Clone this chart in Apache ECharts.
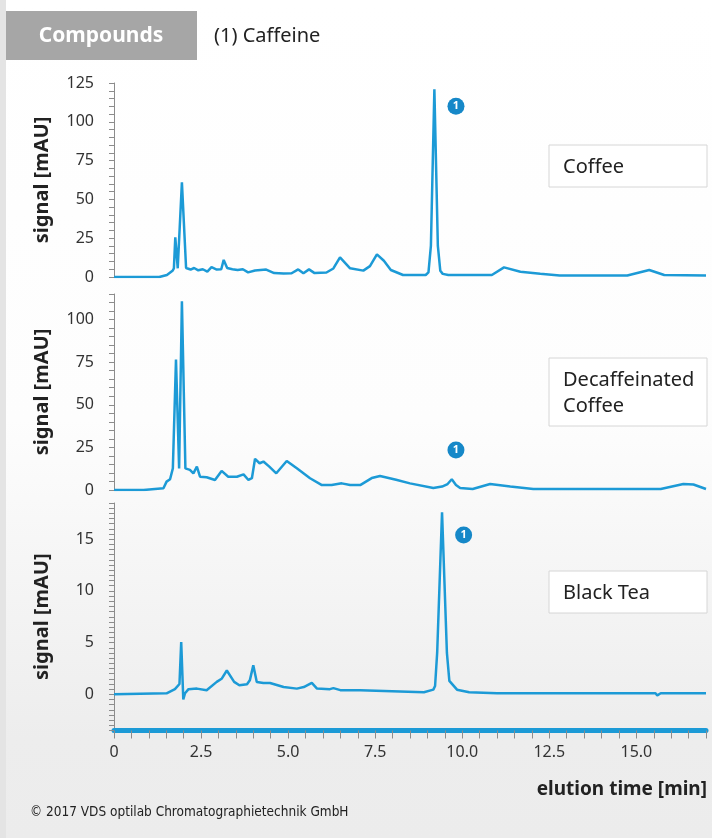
<!DOCTYPE html>
<html>
<head>
<meta charset="utf-8">
<script src="https://cdn.jsdelivr.net/npm/echarts@6/dist/echarts.min.js"></script>
<style>
html,body{margin:0;padding:0;}
body{width:712px;height:838px;background:linear-gradient(to bottom,#ffffff 0%,#fdfdfd 50%,#ededed 88%,#ececec 100%);}
#chart{width:712px;height:838px;}
</style>
</head>
<body>
<div id="chart"></div>
<script>
// ---- data (elution time [min], signal [mAU]) ----
const coffeeData = [
  [0,0],[1.3,0],[1.52,1.3],[1.68,4],[1.72,5.5],[1.76,25.6],[1.83,5.6],[1.95,61],[2.07,5.8],
  [2.2,4.8],[2.3,5.8],[2.42,4.3],[2.55,5],[2.68,3.5],[2.8,6.3],[2.95,4.8],[3.08,5],[3.15,11],
  [3.25,5.8],[3.4,5],[3.55,4.5],[3.7,5],[3.85,3],[4.05,4.2],[4.37,4.8],[4.6,2.5],[4.87,2.2],
  [5.1,2.4],[5.29,4.9],[5.44,2.4],[5.6,4.9],[5.76,2.5],[6.1,2.9],[6.3,5.5],[6.49,12.7],
  [6.78,5.6],[7.16,4.1],[7.35,7],[7.55,14.6],[7.75,10.5],[7.95,4.5],[8.3,1.3],[8.95,1.3],
  [9.03,3],[9.1,20],[9.2,121],[9.3,20],[9.37,4],[9.44,2],[9.6,1.3],[10.85,1.3],[11.2,6.2],
  [11.67,3.4],[12.24,2.1],[12.8,1],[14.74,1],[15.37,4.5],[15.8,1.3],[17.0,1]
];
const decafData = [
  [0,0],[0.85,0],[1.42,1],[1.51,4.9],[1.61,6.3],[1.69,12.7],[1.72,13.7],[1.78,76.5],[1.87,12.7],
  [1.95,110.8],[2.05,12.7],[2.18,11.8],[2.28,9.8],[2.38,13.7],[2.47,7.8],[2.66,7.5],[2.9,5.9],
  [3.09,11.2],[3.28,7.8],[3.53,7.8],[3.72,9.2],[3.86,5.9],[3.96,6.9],[4.05,18.3],[4.18,15.7],
  [4.29,16.7],[4.46,13.7],[4.66,9.8],[4.96,17],[5.25,12.7],[5.63,6.9],[5.97,2.9],[6.25,2.9],
  [6.54,3.9],[6.78,2.9],[7.07,2.9],[7.4,7],[7.64,8.2],[8.1,6],[8.5,3.9],[9.17,1.2],[9.42,2],
  [9.58,3.5],[9.7,6.3],[9.82,3],[9.94,1.2],[10.3,0.6],[10.8,3.5],[11.38,2],[12.04,0.6],
  [15.7,0.6],[16.35,3.5],[16.64,3.2],[17.0,0.6]
];
const blackTeaData = [
  [0,0],[1.51,0.1],[1.75,0.5],[1.88,1],[1.93,5.06],[1.99,-0.5],[2.04,0.1],[2.14,0.5],[2.38,0.55],
  [2.66,0.4],[2.95,1.2],[3.09,1.5],[3.24,2.3],[3.45,1.2],[3.6,0.87],[3.82,0.97],[3.9,1.35],
  [4.0,2.8],[4.1,1.2],[4.15,1.35],[4.29,1.1],[4.48,1.1],[4.87,0.7],[5.25,0.55],[5.45,0.7],
  [5.68,1.1],[5.83,0.55],[6.2,0.5],[6.3,0.6],[6.5,0.4],[7.07,0.4],[8.9,0.2],[9.17,0.45],
  [9.22,0.8],[9.28,4],[9.42,17.6],[9.56,4],[9.63,1.3],[9.85,0.45],[10.2,0.2],[11,0.1],
  [15.55,0.1],[15.6,-0.1],[15.7,0.1],[15.75,-0.05],[15.8,0.1],[17.0,0.1]
];
// caffeine peak label anchor (time, signal) per panel
const caffeineMarkCoffee = [9.82, 110];
const caffeineMarkDecaf = [9.82, 23.5];
const caffeineMarkTea = [10.04, 15.4];
const sampleNames = ['Coffee', 'Decaffeinated\nCoffee', 'Black Tea'];
const compoundLegend = '(1) Caffeine';
const xLabelStep = 2.5;

const BLUE = '#1c9ad6';
const MARK = '#1688c8';
const FONT = '"Noto Sans", "Open Sans", sans-serif';

const chart = echarts.init(document.getElementById('chart'), null, {renderer: 'canvas'});

function yAxisCfg(idx, min, max, interval, labelStep) {
  return {
    type: 'value', gridIndex: idx, min: min, max: max, interval: interval,
    axisLine: {show: true, onZero: false, lineStyle: {color: '#8c8c8c', width: 1}},
    axisTick: {show: true, length: 5, lineStyle: {color: '#8c8c8c'}},
    axisLabel: {
      margin: 20, fontSize: 16, color: '#333', fontFamily: FONT,
      formatter: v => (Math.abs(v % labelStep) < 1e-9 && v >= 0) ? String(v) : ''
    },
    splitLine: {show: false},
    name: 'signal [mAU]', nameLocation: 'middle', nameGap: 62,
    nameTextStyle: {fontSize: 20, fontWeight: 'bold', color: '#222', fontFamily: FONT}
  };
}

function markCfg(coord) {
  return {
    symbol: 'circle', symbolSize: 17,
    itemStyle: {color: MARK},
    label: {show: true, formatter: '1', color: '#fff', fontWeight: 'bold', fontSize: 11, fontFamily: FONT},
    data: [{coord: coord}]
  };
}

function lineSeries(idx, data, mark) {
  return {
    type: 'line', xAxisIndex: idx, yAxisIndex: idx, data: data,
    showSymbol: false, symbol: 'none', smooth: false,
    lineStyle: {color: BLUE, width: 2.5},
    markPoint: markCfg(mark),
    animation: false
  };
}

function sampleBox(y, h, text) {
  return {
    type: 'group',
    children: [
      {type: 'rect', shape: {x: 549, y: y, width: 158, height: h},
       style: {fill: '#ffffff', stroke: '#d6d6d6', lineWidth: 1}},
      {type: 'text', style: {x: 563, y: y + h / 2 + 1, text: text, fill: '#222',
        font: '20px ' + FONT, textVerticalAlign: 'middle', lineHeight: 26}}
    ]
  };
}

const xHidden = idx => ({type: 'value', gridIndex: idx, min: 0, max: 17, show: false});

chart.setOption({
  animation: false,
  grid: [
    {left: 114, right: 6, top: 83, height: 194, outerBoundsMode: 'none', containLabel: false},
    {left: 114, right: 6, top: 294, height: 196, outerBoundsMode: 'none', containLabel: false},
    {left: 114, right: 6, top: 503, height: 227.5, outerBoundsMode: 'none', containLabel: false}
  ],
  xAxis: [
    xHidden(0), xHidden(1),
    {
      type: 'value', gridIndex: 2, min: 0, max: 17, interval: 0.5, position: 'bottom',
      axisLine: {show: true, onZero: false, lineStyle: {color: BLUE, width: 5}},
      axisTick: {show: true, length: 8, lineStyle: {color: '#8c8c8c'}},
      axisLabel: {
        margin: 14, fontSize: 16, color: '#333', fontFamily: FONT,
        formatter: v => (Math.abs(v % xLabelStep) < 1e-9 && v <= 15) ? (v === 0 ? '0' : v.toFixed(1)) : ''
      },
      splitLine: {show: false}
    }
  ],
  yAxis: [
    yAxisCfg(0, 0, 125, 5, 25),
    yAxisCfg(1, 0, 115, 5, 25),
    yAxisCfg(2, -3.5, 18.5, 0.5, 5)
  ],
  series: [
    lineSeries(0, coffeeData, caffeineMarkCoffee),
    lineSeries(1, decafData, caffeineMarkDecaf),
    lineSeries(2, blackTeaData, caffeineMarkTea)
  ],
  graphic: [
    {type: 'rect', z: -10, shape: {x: 0, y: 0, width: 6, height: 838}, style: {fill: '#e4e4e4'}},
    {type: 'rect', shape: {x: 6, y: 11, width: 191, height: 49}, style: {fill: '#a6a6a6'}},
    {type: 'text', style: {x: 101, y: 36, text: 'Compounds', fill: '#ffffff',
      font: 'bold 21px ' + FONT, textAlign: 'center', textVerticalAlign: 'middle'}},
    {type: 'text', style: {x: 214, y: 36, text: compoundLegend, fill: '#222',
      font: '20px ' + FONT, textVerticalAlign: 'middle'}},
    sampleBox(145, 42, sampleNames[0]),
    sampleBox(358, 68, sampleNames[1]),
    sampleBox(571, 42, sampleNames[2]),
    {type: 'text', style: {x: 707, y: 790, text: 'elution time [min]', fill: '#222',
      font: 'bold 19px ' + FONT, textAlign: 'right', textVerticalAlign: 'middle'}},
    {type: 'text', style: {x: 30, y: 812, text: '\u00A9 2017 VDS optilab Chromatographietechnik GmbH',
      fill: '#222', font: '13.5px "Liberation Sans Narrow", "DejaVu Sans Condensed", sans-serif',
      textVerticalAlign: 'middle'}}
  ]
});
</script>
</body>
</html>
